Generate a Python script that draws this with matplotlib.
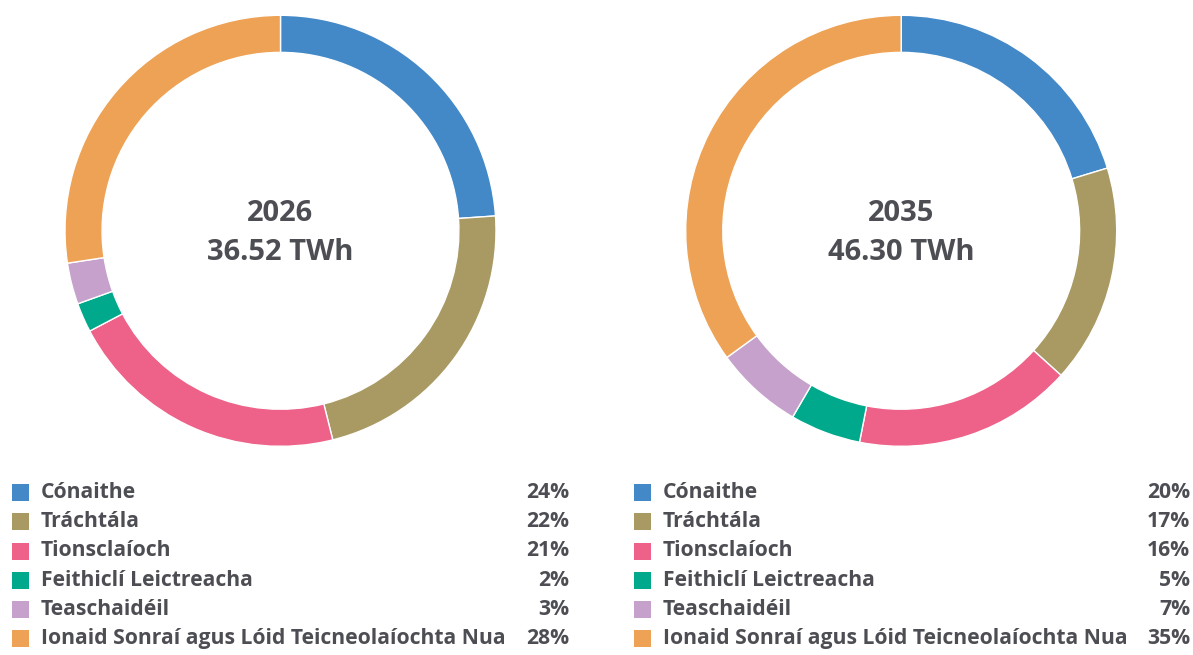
import matplotlib.pyplot as plt
from matplotlib.patches import Rectangle

categories = ["Cónaithe", "Tráchtála", "Tionsclaíoch", "Feithiclí Leictreacha",
              "Teaschaidéil", "Ionaid Sonraí agus Lóid Teicneolaíochta Nua"]
colors = ["#4389c8", "#a99963", "#ee6189", "#00a88c", "#c5a1cb", "#eda255"]

years = ["2026", "2035"]
totals = ["36.52 TWh", "46.30 TWh"]
shares_2026 = [23.9, 22.2, 21.2, 2.2, 3.1, 27.4]
shares_2035 = [20.3, 16.4, 16.4, 5.3, 6.6, 35.0]
labels_2026 = ["24%", "22%", "21%", "2%", "3%", "28%"]
labels_2035 = ["20%", "17%", "16%", "5%", "7%", "35%"]

TXT = "#4d4e53"
W, H = 1193, 655

plt.rcParams["font.family"] = ["Open Sans", "DejaVu Sans"]
fig = plt.figure(figsize=(W / 100, H / 100), dpi=100)

# donut boxes in pixels: (left, top, diameter)
donuts = [(65, 15.3, 431), (685.7, 15.3, 431)]
all_shares = [shares_2026, shares_2035]
all_labels = [labels_2026, labels_2035]

for i in range(2):
    x0, top, d = donuts[i]
    ax = fig.add_axes([x0 / W, (H - top - d) / H, d / W, d / H])
    ax.pie(all_shares[i], colors=colors, startangle=90, counterclock=False,
           radius=1, wedgeprops=dict(width=0.172, edgecolor="white", linewidth=1))
    ax.set_xlim(-1, 1)
    ax.set_ylim(-1, 1)
    ax.set_aspect("equal")
    ax.axis("off")
    ax.text(0, 0.078, years[i], ha="center", va="center", fontsize=21,
            fontweight="bold", color=TXT)
    ax.text(0, -0.1, totals[i], ha="center", va="center", fontsize=21,
            fontweight="bold", color=TXT)

# legends
leg_x = [12, 634]
pct_right = [569, 1190]
row_y = [492.5, 521.7, 551, 580.2, 609.5, 638.7]
for i in range(2):
    for j, name in enumerate(categories):
        y = row_y[j]
        fig.add_artist(Rectangle((leg_x[i] / W, (H - y - 8.5) / H), 17 / W, 17 / H,
                                 transform=fig.transFigure, color=colors[j], lw=0))
        fig.text((leg_x[i] + 29) / W, (H - y) / H, name, ha="left", va="center",
                 fontsize=15.2, fontweight="bold", color=TXT)
        fig.text(pct_right[i] / W, (H - y) / H, all_labels[i][j], ha="right",
                 va="center", fontsize=15.2, fontweight="bold", color=TXT)

fig.savefig("out.png", dpi=100, facecolor="white")
